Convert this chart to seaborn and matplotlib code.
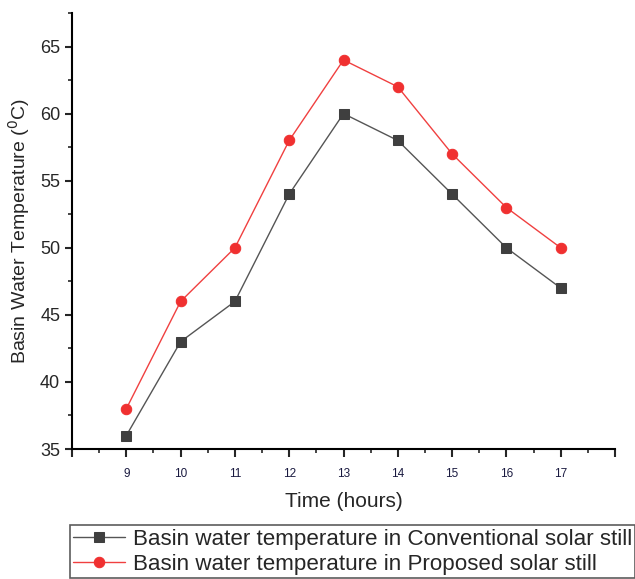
import matplotlib
matplotlib.use("Agg")
import matplotlib.pyplot as plt
import seaborn as sns
import pandas as pd
from matplotlib.ticker import MultipleLocator, FixedLocator

hours = [9, 10, 11, 12, 13, 14, 15, 16, 17]
conventional = [36, 43, 46, 54, 60, 58, 54, 50, 47]
proposed = [38, 46, 50, 58, 64, 62, 57, 53, 50]
x_tick_labels = ["9", "10", "11", "12", "13", "14", "15", "16", "17"]
label_conv = "Basin water temperature in Conventional solar still"
label_prop = "Basin water temperature in Proposed solar still"

sns.set_style("ticks")
plt.rcParams['font.family'] = ['Liberation Sans', 'DejaVu Sans']

df = pd.DataFrame({"hour": hours, "conv": conventional, "prop": proposed})

fig = plt.figure(figsize=(6.35, 5.79), dpi=100)
ax = fig.add_axes([0.1134, 0.2245, 0.8551, 0.753])

sns.lineplot(data=df, x="hour", y="conv", ax=ax, color="#555555", lw=1.0,
             marker="s", markersize=7, markerfacecolor="#3f3f3f",
             markeredgecolor="#3f3f3f", label=label_conv)
sns.lineplot(data=df, x="hour", y="prop", ax=ax, color="#f04040", lw=1.0,
             marker="o", markersize=7.5, markerfacecolor="#f03030",
             markeredgecolor="#f03030", label=label_prop)

ax.set_xlim(8, 18)
ax.set_ylim(35, 67.5)
major_x = [8] + hours + [18]
ax.xaxis.set_major_locator(FixedLocator(major_x))
ax.set_xticks(major_x)
ax.set_xticklabels([""] + x_tick_labels + [""], fontsize=8.5, color="#1a1a40")
ax.xaxis.set_minor_locator(FixedLocator([h + 0.5 for h in [8] + hours]))
ax.yaxis.set_major_locator(MultipleLocator(5))
ax.yaxis.set_minor_locator(MultipleLocator(2.5))
ax.tick_params(axis="y", which="major", labelsize=13, length=5, width=1.5, direction="out")
ax.tick_params(axis="y", which="minor", length=3, width=1.2, direction="out")
ax.tick_params(axis="x", which="major", length=6, width=1.5, direction="out", pad=8)
ax.tick_params(axis="x", which="minor", length=3, width=1.2, direction="out")
for s in ["top", "right"]:
    ax.spines[s].set_visible(False)
for s in ["left", "bottom"]:
    ax.spines[s].set_linewidth(1.5)
    ax.spines[s].set_color("black")

ax.set_xlabel("Time (hours)", fontsize=15, labelpad=8)
ax.set_ylabel(r"Basin Water Temperature ($^0$C)", fontsize=14, labelpad=6)

ax.get_legend().remove()
handles, labels = ax.get_legend_handles_labels()
leg = fig.legend(handles, labels, loc="upper left", bbox_to_anchor=(0.110, 0.093),
                 frameon=True, fancybox=False, fontsize=16.1, handlelength=2.3,
                 borderpad=0.15, labelspacing=0.2, handletextpad=0.36, borderaxespad=0)
leg.get_frame().set_edgecolor("#333333")
leg.get_frame().set_linewidth(1.2)

fig.savefig("out.png", dpi=100)
